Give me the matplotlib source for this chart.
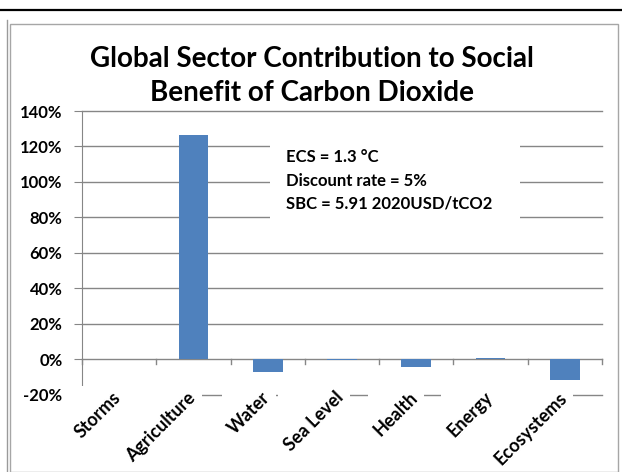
import matplotlib
matplotlib.use("Agg")
import matplotlib.pyplot as plt
from matplotlib.lines import Line2D
from matplotlib.patches import Rectangle
import numpy as np

plt.rcParams['font.family'] = ['Lato', 'DejaVu Sans']

sectors = ["Storms", "Agriculture", "Water", "Sea Level", "Health", "Energy", "Ecosystems"]
contribution = [0.0, 126.5, -7.4, -0.6, -4.5, 0.7, -11.8]   # percent of total SBC
yticks = [-20, 0, 20, 40, 60, 80, 100, 120, 140]
title_text = "Global Sector Contribution to Social\nBenefit of Carbon Dioxide"
note_lines = ["ECS = 1.3 \u00b0C", "Discount rate = 5%", "SBC = 5.91 2020USD/tCO2"]

W, H = 622, 472
fig = plt.figure(figsize=(W / 100, H / 100), dpi=100)
fig.patch.set_facecolor("white")

def fx(px):
    return px / W

def fy(py):
    return 1 - py / H

# page decorations around the chart
fig.add_artist(Line2D([0, 1], [fy(10), fy(10)], color="black", lw=1.6))
fig.add_artist(Line2D([fx(7), fx(7)], [fy(20), 0], color="#9a9a9a", lw=1.0))
fig.add_artist(Rectangle((fx(10), fy(472)), fx(608), fy(24) - fy(472),
                         fill=False, edgecolor="#a6a6a6", lw=1.0))

ax = fig.add_axes([fx(82), fy(394.5), fx(602) - fx(82), fy(111) - fy(394.5)])
x = np.arange(len(sectors))
ax.bar(x, contribution, width=0.4, color="#4F81BD", zorder=3)

ax.set_xlim(-0.5, len(sectors) - 0.5)
ax.set_ylim(-20, 140)
ax.set_yticks(yticks)
ax.set_yticklabels([f"{v}%" for v in yticks], fontsize=12, fontweight="bold")
for v in yticks:
    ax.axhline(v, color="#868686", lw=1.0, zorder=1, clip_on=False)

for s in ["top", "right", "bottom"]:
    ax.spines[s].set_visible(False)
ax.spines["left"].set_color("#868686")
ax.tick_params(axis="y", length=6, color="#868686", pad=8)

# category axis crossing at zero, tick marks between categories
ax.set_xticks([])
for b in np.arange(-0.5, len(sectors), 1.0):
    ax.plot([b, b], [0, -3.0], color="#868686", lw=1.0, zorder=2, clip_on=False)

labels = []
for i, name in enumerate(sectors):
    t = ax.annotate(name, xy=(i, -20), xycoords="data", xytext=(-5, 4),
                    textcoords="offset points", rotation=45, ha="right", va="top",
                    rotation_mode="anchor", fontsize=13, fontweight="bold",
                    zorder=4, annotation_clip=False)
    labels.append(t)

fig.text(fx(312), fy(76), title_text, ha="center", va="center", fontsize=20,
         fontweight="bold", linespacing=1.35)

# parameter note box
ax.add_patch(Rectangle((0.3615, 0.565), 0.48, 0.35, transform=ax.transAxes,
                       facecolor="white", edgecolor="none", zorder=4))
for ty, line in zip([0.838, 0.753, 0.672], note_lines):
    ax.text(0.392, ty, line, transform=ax.transAxes, fontsize=12,
            fontweight="bold", va="center", ha="left", zorder=5)

# white label areas hide the lowest gridline behind the category names
fig.canvas.draw()
renderer = fig.canvas.get_renderer()
inv = ax.transAxes.inverted()
for t in labels:
    bb = t.get_window_extent(renderer).padded(3)
    (x0, y0), (x1, y1) = inv.transform([(bb.x0, bb.y0), (bb.x1, bb.y1)])
    ax.add_patch(Rectangle((x0, y0), x1 - x0, y1 - y0, transform=ax.transAxes,
                           facecolor="white", edgecolor="none", zorder=2.8,
                           clip_on=False))

fig.savefig("out.png", dpi=100, facecolor="white")
